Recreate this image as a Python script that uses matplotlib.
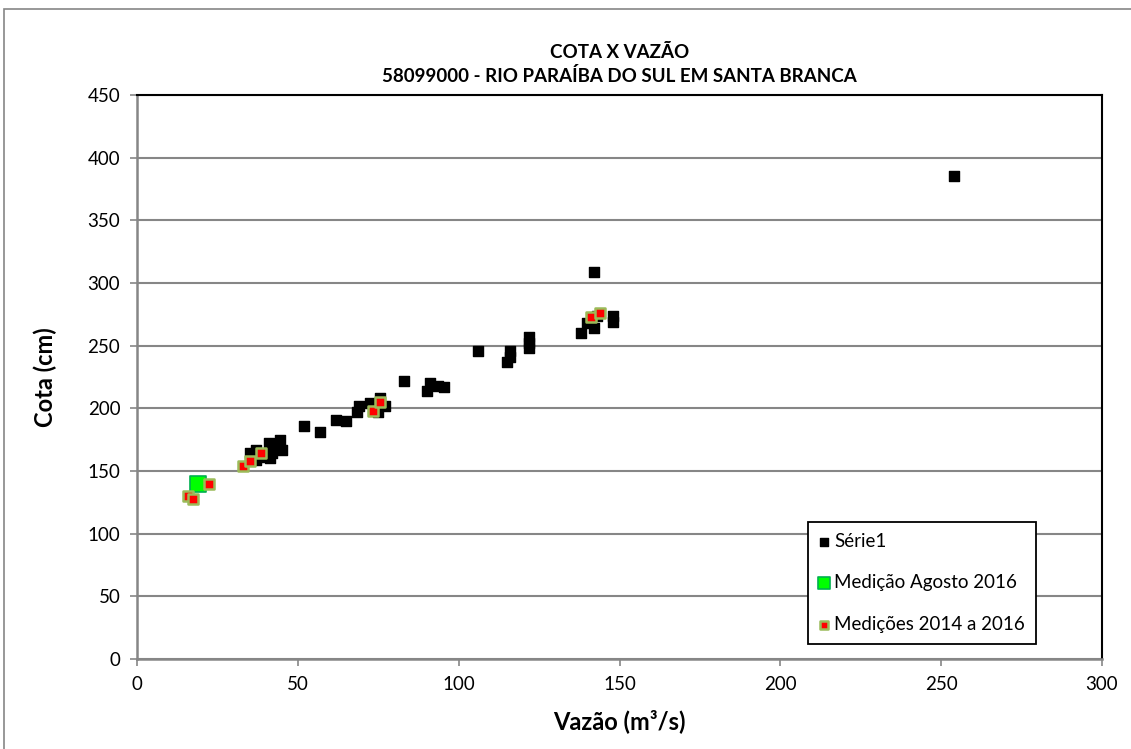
import matplotlib
matplotlib.use("Agg")
import matplotlib.pyplot as plt
from matplotlib.patches import Rectangle

plt.rcParams['font.family'] = ['Lato', 'DejaVu Sans']

# Série1 - curva chave (pontos pretos)
serie1_vazao = [254, 142, 138, 142, 148, 148, 140, 143, 106, 115, 116, 116,
                122, 122, 122, 83, 90, 91, 93.5, 95.5, 52, 57, 62, 65, 68.5,
                69, 72.5, 75.5, 77, 75, 35, 37, 37, 41, 41.5, 44.5, 45, 42,
                42.5, 38]
serie1_cota = [385, 309, 260, 264, 274, 269, 268, 274, 246, 237, 241, 246,
               257, 252, 248, 222, 214, 220, 218, 217, 186, 181, 191, 190, 197,
               202, 204, 208, 202, 197, 164, 167, 159, 172, 160, 175, 167, 164,
               169, 161]

# Medição Agosto 2016
ago_vazao = [19]
ago_cota = [140]

# Medições 2014 a 2016
med_vazao = [16, 17.5, 22.5, 33, 35, 38.5, 73.5, 75.5, 141, 144]
med_cota = [130, 128, 140, 154, 158, 164, 198, 205, 273, 276]

fig = plt.figure(figsize=(11.31, 7.49), dpi=100)
ax = fig.add_axes([137/1131, 1 - 659/749, 965/1131, 564/749])

# moldura externa do grafico
fig.patches.append(Rectangle((4/1131, -0.2), 1.5, 0.988 + 0.2, transform=fig.transFigure,
                             fill=False, edgecolor='#868686', linewidth=1.2))

ax.scatter(serie1_vazao, serie1_cota, marker='s', s=55, color='black',
           label='Série1', zorder=3)
ax.scatter(ago_vazao, ago_cota, marker='s', s=120, facecolor='#00ff00',
           edgecolor='#00b050', linewidths=1.2, label='Medição Agosto 2016', zorder=4)
ax.scatter(med_vazao, med_cota, marker='s', s=55, facecolor='#ff0000',
           edgecolor='#9bbb59', linewidths=1.8, label='Medições 2014 a 2016', zorder=5)

ax.set_xlim(0, 300)
ax.set_ylim(0, 450)
ax.set_xticks(range(0, 301, 50))
ax.set_yticks(range(0, 451, 50))
ax.grid(axis='y', color='#868686', linewidth=1.5)
ax.set_axisbelow(True)

for s in ['left', 'bottom']:
    ax.spines[s].set_color('#868686')
    ax.spines[s].set_linewidth(1.8)
for s in ['top', 'right']:
    ax.spines[s].set_color('black')
    ax.spines[s].set_linewidth(1.5)

ax.tick_params(axis='both', direction='out', length=5, width=1.2, color='#868686',
               labelsize=13.5, pad=7)

ax.set_xlabel('Vazão (m³/s)', fontsize=17, fontweight='bold', labelpad=12)
ax.set_ylabel('Cota (cm)', fontsize=17, fontweight='bold', labelpad=22)
ax.set_title('COTA X VAZÃO\n58099000 - RIO PARAÍBA DO SUL EM SANTA BRANCA',
             fontsize=13.5, fontweight='bold', linespacing=1.45, pad=9)

leg = ax.legend(loc='lower left', bbox_to_anchor=(0.695, 0.027), fontsize=13.5,
                frameon=True, fancybox=False, edgecolor='black', framealpha=1,
                labelspacing=1.3, handlelength=0.5, handletextpad=0.3,
                borderpad=0.6, borderaxespad=0, markerscale=0.75)
leg.get_frame().set_linewidth(1.3)

fig.savefig('out.png', dpi=100)
